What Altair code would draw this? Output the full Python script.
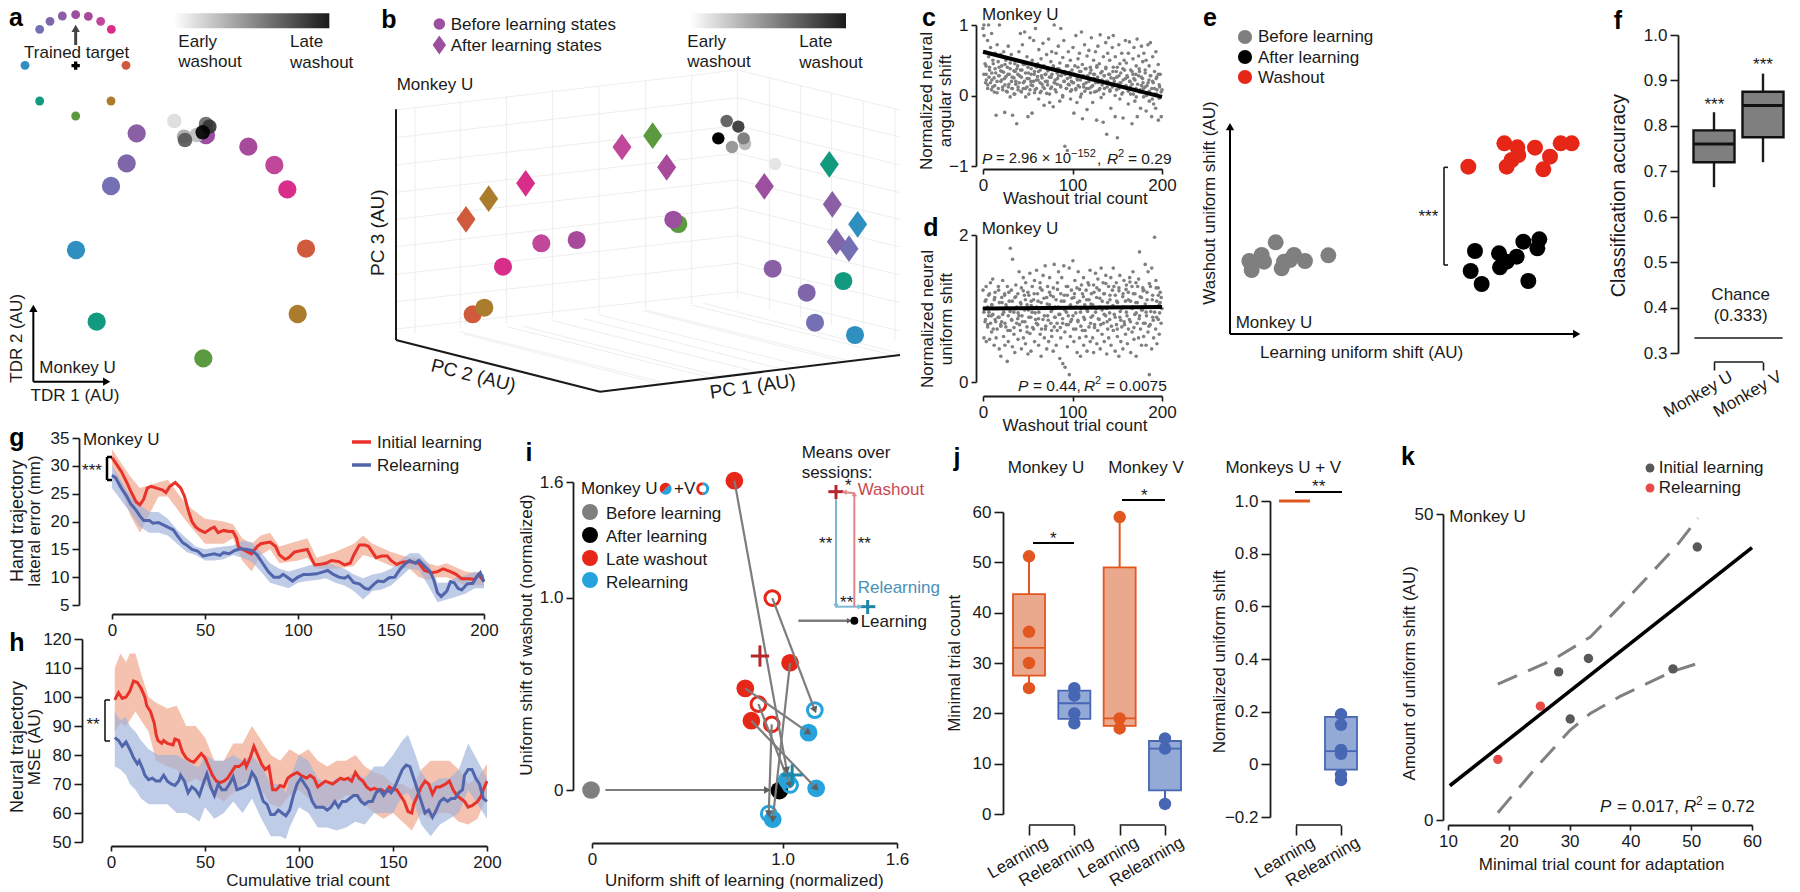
import math
import altair as alt
import pandas as pd

F = "Liberation Sans"
INK = "#1a1a1a"
W, H = 1784, 884

# ---------- colours ----------
C_VIOLET = ["#7570b3", "#7f66ab", "#8b5fa5", "#9b4f9e", "#a84a9a", "#c0479a", "#d92d8a"]
C_BLUE, C_GREEN, C_BROWN, C_ORANGE, C_TEAL = "#2e8fc0", "#5b9a3e", "#aa7c2c", "#cf5a3c", "#129a7f"

# ---------- panel a (values in arbitrary TDR units) ----------
a_small_x = [119, 150, 187, 227, 265, 302, 334, 75, 378, 119, 333, 227]
a_small_y = [88, 64, 48, 44, 49, 64, 88, 196, 196, 303, 303, 348]
a_small_c = C_VIOLET + [C_BLUE, C_ORANGE, C_TEAL, C_BROWN, C_GREEN]
a_big_x = [333, 380, 410, 618, 745, 823, 862, 228, 918, 290, 893, 610]
a_big_y = [558, 490, 400, 405, 440, 495, 568, 750, 746, 965, 942, 1075]
a_big_c = C_VIOLET + [C_BLUE, C_ORANGE, C_TEAL, C_BROWN, C_GREEN]
a_wash_x = [523, 552, 590, 555, 618, 628, 608]
a_wash_y = [363, 410, 405, 420, 372, 380, 397]
a_wash_c = ["#dcdcdc", "#a8a8a8", "#bdbdbd", "#555555", "#666666", "#333333", "#000000"]

# ---------- panel b ----------
b_circ_x = [1305, 1280, 1178, 880, 590, 484, 369, 1425, 278, 1390, 313, 895]
b_circ_y = [968, 878, 806, 659, 720, 730, 800, 1005, 943, 843, 923, 672]
b_circ_c = C_VIOLET + [C_BLUE, C_ORANGE, C_TEAL, C_BROWN, C_GREEN]
b_circ_order = [11, 3, 2, 1, 0, 4, 5, 6, 8, 10, 9, 7]
b_dia_x = [1407, 1369, 1357, 1153, 860, 726, 437, 1433, 258, 1348, 326, 818]
b_dia_y = [746, 725, 613, 559, 502, 441, 550, 673, 658, 493, 596, 407]
b_dia_c = C_VIOLET + [C_BLUE, C_ORANGE, C_TEAL, C_BROWN, C_GREEN]
b_wash_x = [1185, 1095, 1056, 1091, 1040, 1075, 1015]
b_wash_y = [492, 432, 441, 415, 363, 380, 415]
b_wash_c = ["#e5e5e5", "#bbbbbb", "#999999", "#808080", "#666666", "#444444", "#000000"]

# ---------- panels c and d ----------
c_values = [
 .95,1.0,.85,.62,.45,.3,.22,.78,.15,.55,1.0,.4,.18,.68,.32,.88,.12,.5,.25,.05,.6,.38,-.28,.2,.72,.1,.48,.28,1.0,.35,
 .58,.22,.42,.08,.33,.62,.15,-.24,.5,.27,.05,.4,.12,.7,.3,-.02,.46,.2,.58,.1,-.28,.35,.25,.02,.45,.16,-.4,.38,.08,.3,
 .62,.18,.88,.36,.05,.26,.72,.1,.44,.9,.2,.32,-.02,.55,.12,-.3,.4,.24,.82,.08,.3,.15,-.25,.5,.2,.78,.04,.34,.95,.22,
 .1,.45,.27,-.05,.65,.18,.36,.06,.52,.25,.74,.12,.4,-.14,.3,.2,.58,.03,.35,.15,.8,.26,-.1,.48,.1,.62,.3,-.16,.42,.18,
 1.0,.22,.6,.05,.38,.16,.7,.28,-.08,.46,.95,.12,.34,-.02,.54,.2,.78,-.72,.3,.1,.42,.24,-.78,.62,.15,.33,-.05,.5,.2,.08,
 .18,.68,.3,-.25,.42,.1,.85,.24,-.1,.52,.14,.6,.34,-.02,.22,.9,.44,-.33,.12,.28,.72,.06,.38,.18,.56,-.2,.26,.64,.1,.4,
 .32,.12,.82,.22,-.1,.5,.3,.05,.62,.18,.4,-.35,.26,.7,.08,.45,.2,.86,-.03,.34,.15,.55,-.38,.28,.1,.75,.4,-.55,.2,.6,
 .82,.3,.06,.5,-.18,.25,.68,.12,.4,.85,.2,-.3,.55,.08,.34,-.6,.16,.72,.28,-.05,.45,.18,.6,.02,-.32,.38,.12,.5,.78,.24,
 .1,.46,.26,-.12,.6,.2,.76,.02,.36,-.4,.16,.52,.3,.68,-.08,.22,.42,.1,.8,-.3,.28,.56,.05,.34,-.18,.7,.14,.48,.24,-.02,
 .6,.12,.36,-.22,.5,.04,.72,.18,-.08,.42,.28,.75,-.3,.1,.55,.2,-.12,.34,.02,.62,-.18,.26,.08,.44,-.35,.15,-.04,.3,.05,-.3]
c_extra = [
 .3,.18,.42,.1,.26,.36,.08,.22,.45,.14,.32,.04,.28,.4,.2,
 .34,.12,.24,.44,.06,.3,.16,.38,.1,.26,.02,.34,.2,.42,.12,
 .28,.06,.36,.18,.44,.1,.24,.32,.02,.2,.38,.14,.3,.08,.4,
 .22,.34,.04,.28,.16,.42,.1,.3,.2,.36,.02,.26,.12,.4,.18,
 .08,.32,.24,.38,.14,.28,.0,.2,.34,.1,.42,.16,.26,.06,.36,
 .18,.3,.08,.22,.4,.12,.34,.02,.26,.16,.38,.1,.28,.2,.04,
 .36,.14,.24,.3,.06,.42,.18,.1,.32,.22,.02,.28,.38,.12,.2,
 .3,.08,.16,.34,.24,.0,.26,.4,.1,.18,.32,.04,.22,.36,.14,
 .28,.06,.2,.12,.34,.02,.24,.3,-.02,.16,.38,.08,.26,.18,.1,
 .32,.0,.14,.22,.06,.28,-.05,.18,.1,.24,.02,.3,.12,-.02,.08]
d_values = [
 1.25,.95,.6,1.1,.82,1.3,.55,1.02,.75,1.18,.9,.58,1.35,.8,1.05,.68,1.4,.92,.5,1.12,.85,1.22,.6,1.0,.72,1.3,.88,.45,1.08,.78,
 .35,1.15,.82,1.38,.62,.95,.5,1.2,.75,1.05,.28,1.3,.9,.55,1.1,.7,1.82,.85,1.25,.48,1.67,.95,.65,1.15,.4,1.32,.8,1.02,.58,1.2,
 .9,1.5,.7,1.08,.45,1.28,.82,1.42,.6,.98,1.18,.52,1.35,.75,1.05,.38,1.22,.88,1.48,.66,1.1,.42,.95,1.3,.72,1.12,.55,1.38,.85,1.02,
 1.52,.78,1.2,.5,.95,1.35,.65,1.08,.35,1.25,.85,1.45,.6,1.0,1.58,.72,1.15,.45,.9,1.3,.55,1.05,1.42,.8,1.18,.62,.98,.42,1.28,.75,
 1.6,.88,1.12,.5,1.35,.7,1.02,1.5,.32,.92,1.2,.6,1.42,.8,.25,1.1,1.58,.68,.2,1.3,.95,.48,1.18,.78,1.55,.1,1.05,.62,1.25,.85,
 1.65,.9,1.15,.55,1.38,.72,1.02,.4,1.28,.82,1.5,.6,1.1,.35,.95,1.32,.7,1.2,.5,1.42,.85,1.05,.62,1.25,.42,.98,1.35,.75,1.12,.55,
 1.52,.88,1.2,.6,1.05,.4,1.32,.78,1.48,.95,.52,1.15,.7,1.4,.85,1.25,.45,1.02,1.55,.65,1.1,.8,1.35,.55,1.2,.9,1.45,.38,1.0,.72,
 1.3,.6,1.12,.85,1.42,.5,1.02,1.25,.7,1.55,.92,.42,1.18,.78,1.35,.62,1.08,.35,1.28,.88,1.45,.55,1.0,.75,1.2,.45,1.38,.82,1.1,.65,
 1.32,.95,.52,1.22,.72,1.42,.85,1.1,.4,1.3,.68,1.02,1.5,.58,.92,1.2,.35,1.35,.8,1.08,.6,1.4,.9,1.77,.72,1.15,.5,1.28,.98,.62,
 1.25,.8,1.6,.95,.5,1.12,.68,1.5,.1,1.02,.78,1.3,.45,1.55,.88,1.18,.6,1.97,.95,1.38,.72,1.1,.52,1.28,.85,1.05,.65,1.22,.8,1.15]
d_extra = [
 1.0,.85,1.12,.78,.95,1.2,.9,1.05,.72,1.15,.82,1.0,1.25,.88,.76,
 1.08,.92,1.18,.8,1.02,.7,1.22,.96,.84,1.1,.74,1.0,1.16,.86,.94,
 .78,1.06,.9,1.24,.82,1.12,.68,.98,1.18,.88,1.04,.74,1.2,.94,.8,
 1.1,.86,1.28,.72,1.0,1.14,.9,.76,1.06,.84,1.22,.96,.7,1.16,.88,
 1.02,.8,1.26,.92,.74,1.1,.86,1.18,.98,.78,1.3,.9,1.04,.82,1.14,
 .72,1.2,.94,1.08,.84,1.26,.76,1.0,1.16,.88,.7,1.12,.96,1.32,.8,
 1.06,.9,1.22,.74,1.0,1.28,.86,1.14,.78,.98,1.2,.92,1.34,.82,1.08,
 .94,1.18,.76,1.04,1.3,.88,1.1,.72,1.24,.96,.84,1.16,1.02,.78,1.26,
 .9,1.12,1.36,.82,1.0,1.2,.74,1.08,.94,1.3,.86,1.16,.98,1.24,.8,
 1.06,.9,1.22,.76,1.34,.96,1.12,.84,1.02,1.28,.88,1.18,.94,1.08,1.0]
x_nudge = [0, .35, -.2, .5, -.4, .15, -.3, .45, -.1, .25, -.45]
trial_index = [max(0, min(200, i * 2 / 3 + x_nudge[i % 11])) for i in range(300)]
extra_index = [max(0, min(200, 1 + i * 4 / 3 + x_nudge[(i * 3) % 11])) for i in range(150)]

# ---------- panel e ----------
e_gray_x = [118, 155, 162, 125, 197, 215, 222, 240, 252, 285, 355]
e_gray_y = [603, 585, 605, 630, 547, 625, 605, 600, 585, 603, 586]
e_black_x = [795, 867, 782, 815, 870, 890, 920, 940, 988, 982, 955]
e_black_y = [573, 580, 633, 672, 622, 605, 590, 545, 538, 565, 663]
e_red_x = [883, 922, 925, 890, 905, 975, 1020, 1000, 1052, 1085, 775]
e_red_y = [250, 262, 285, 320, 300, 263, 290, 328, 250, 250, 320]

# ---------- panel f ----------
f_q1, f_med, f_q3 = [.72, .775], [.76, .845], [.79, .875]
f_lo, f_hi = [.665, .72], [.83, .915]

# ---------- panel g ----------
g_red_x = [0,3,5,8,10,13,15,17,19,21,24,27,29,31,34,37,39,41,43,45,47,50,53,55,57,60,63,65,67,68,70,75,78,80,85,88,90,93,95,98,102,105,107,109,112,115,118,122,125,128,130,133,136,138,140,142,145,148,150,153,156,160,165,168,172,175,178,182,185,188,192,195,197,200]
g_red_y = [31.5,30,29,27,25.5,23.5,23,24,26,26.3,26,25.7,25.2,26.3,27,26,24.5,22,20,19,18.5,18,18.7,19,18,18.4,18.2,18.2,17,15.5,15,14.2,15.5,16,16.3,15.5,14,13.2,13.5,14.5,14.8,15,13.5,12.2,12.3,12.5,13,12.8,12.2,12.5,14,15.8,15.8,15.5,14.5,13.5,13.8,13.8,13,12.3,12.7,12.8,12.5,11.2,10.8,11,11.5,11,10.5,9.7,9.7,9.6,10.5,9.2]
g_blue_x = [0,2,5,8,10,13,15,17,20,22,25,27,30,33,35,38,40,43,46,49,52,55,58,60,63,66,69,72,75,78,81,84,87,90,92,95,97,100,103,106,110,114,116,119,122,125,127,130,133,136,138,141,143,146,149,152,155,158,160,163,165,168,171,173,175,177,180,182,184,186,188,191,194,196,198,200]
g_blue_y = [28.3,27.8,26,24.5,23.2,22,21,20.2,20.2,19.7,19.8,19.5,19,18.5,17.5,16.2,15.8,15,14.7,13.8,14,14.2,13.9,14.4,14.2,14.8,15.1,15,14.8,14,12.5,11,10,10,10.5,9.8,9.3,10,10.5,10.5,10.6,11,11.2,10.5,10,9.8,10.2,9,8.8,8,7.8,8.8,9.3,9.2,9.9,10,11.5,12.5,13,12.5,13,12,11,9.5,7.2,6.5,7.5,9.2,9,8,7.7,8.8,8.9,10,10.8,9.2]
g_rband_x = [0,10,15,25,30,40,50,60,65,70,75,80,85,90,100,105,110,120,130,135,140,150,160,165,170,175,180,190,200]
g_rband_hi = [33,28,26,27,27.5,23,20.5,20,19.5,17,16,17.5,18,15.5,16.5,17,13.5,14.5,16,17.5,16,14.5,13.5,13.5,12.5,12,12.5,11,10.5]
g_rband_lo = [30,21,18,24.5,24.5,20,16,16,17,13,11,14,15,12.5,13,13.5,11.5,11.5,12,14,13.5,12,11.5,10,9.5,10,10,8.5,8.5]
g_bband_x = [0,10,15,20,25,30,35,40,45,50,55,60,65,70,75,80,85,90,95,100,105,110,115,120,125,130,135,140,145,150,155,160,165,170,175,180,185,190,195,200]
g_bband_hi = [30,24.5,23,21.7,21.7,20.5,18.5,17,15.5,15,15.3,15.5,15.7,16.5,16.3,14.5,12.5,11.5,11,11.5,12,12.5,12.8,12,11.5,10.5,9.8,10.5,10.8,11.5,13,14.3,14.3,12.5,9,9,10,10.3,11,10.5]
g_bband_lo = [26,21.5,19,18,18,17.5,16,14.5,14,13,13,13.2,14,13.5,12.8,11,9,8.5,8,9,9.3,9.5,9.8,9,8.5,7.5,6,7.5,7.8,8.5,10,11.5,11.3,8.5,5.5,6,6.5,7,8,8]

# ---------- panel h ----------
h_red_x = [2,4,6,8,10,12,14,16,18,19,21,23,24,25,27,28,30,33,34,36,38,40,42,44,46,48,50,52,54,56,58,60,62,64,66,68,70,71,72,74,76,78,80,82,84,85,86,88,90,92,94,96,99,101,104,106,108,110,112,114,116,118,120,122,124,126,128,130,132,134,136,138,140,142,144,146,148,150,152,154,156,158,160,161,163,165,167,169,171,173,175,178,180,182,184,186,188,190,192,195,197,198,200]
h_red_y = [99,101.5,99.5,100,102,105.5,105,103,100,97,95,91,87,85,84,85,84,83.5,85.5,85,81,79,78,77.5,79,80.5,79,76,73,71,70.5,71,72,74,76,76,77,78,76,79,83,80,77,75,76,72,68,68,69.5,69,72,73,74,73,72,73,72,69,70,71,70.5,70,71,72,71.5,72,71,74,72,71,69,68,68.5,68,68,67,69,68,68,66,64,60.5,60,63,66,69,71,70,66.5,69,69,70,71,68,66,65,64,62,62.5,64,66,68,71]
h_blue_x = [2,4,6,8,10,12,14,15,17,18,20,22,24,26,28,30,32,34,36,37,39,41,43,45,47,49,51,53,55,57,59,61,63,65,67,69,71,73,75,77,79,81,83,85,87,89,91,93,95,97,99,101,103,105,107,109,111,113,115,117,119,121,123,125,127,129,131,133,135,137,139,141,143,145,147,149,151,153,155,157,159,161,163,165,167,169,171,173,175,177,179,181,183,185,187,188,190,192,194,196,198,200]
h_blue_y = [86,85,83,84.5,82,79,77,78,75,73,71.5,72,71,71,73,71,70,69.5,71,73,71,67,69,68,66,70,73.5,69,66,70,68,68,70,72.5,68,68.5,69,70,74,72,68,64,63,59.5,59.5,61,60,59,61,66,70,72,70,68,64,62,62,62,61,62,64,62,64,64,65,66,66,64,63,64,64,67,68,66,68,67,69,72,75,76.5,76,72,68,64,60,61,58.5,61,64,65,64,65,65,67,68,73,75,75,72,70,65,64]
h_rband_x = [2,5,8,10,13,16,20,24,30,35,40,45,50,55,60,65,70,75,80,85,90,95,100,105,110,115,120,125,130,135,140,145,150,155,160,165,170,175,180,185,190,195,200]
h_rband_hi = [110,115,112,115,115,108,100,98,96,97,90,90,86,78,78,84,84,90,85,80,78,82,80,82,78,76,78,78,80,76,74,73,70,70,68,75,78,78,78,75,70,72,77]
h_rband_lo = [88,91,90,92,95,92,88,78,76,75,70,72,70,66,64,67,70,72,68,63,62,66,68,65,62,62,64,66,66,63,60,58,60,57,54,60,58,60,60,57,56,58,66]
h_bband_x = [2,5,8,10,13,16,20,25,30,35,40,45,47,50,55,60,65,70,75,80,85,90,93,95,100,105,110,115,120,125,130,135,140,145,150,155,158,162,165,170,175,180,185,190,195,200]
h_bband_hi = [95,92,93,90,88,85,82,80,80,80,78,76,76,80,78,78,80,78,80,76,70,70,67,72,80,78,72,70,72,72,74,72,76,76,80,85,87,80,74,70,72,72,75,84,78,72]
h_bband_lo = [76,75,73,70,68,65,63,63,63,60,60,58,57,62,58,60,64,60,65,58,52,52,51,55,62,60,55,55,54,55,57,56,60,60,60,66,67,62,56,52,56,58,60,68,63,58]

# ---------- panel i ----------
i_red_x, i_red_y = [.747, 1.039, .804, .836], [1.607, .661, .528, .360]
i_hred_x, i_hred_y = [.946, .873, .943], [.997, .446, .341]
i_cy_x, i_cy_y = [1.022, .948, 1.136, 1.176], [.052, -.152, .298, .009]
i_hcy_x, i_hcy_y = [1.169, 1.039, .927], [.415, .026, -.123]
i_before, i_after = (-.005, 0.0), (.983, -.003)
i_cross_red, i_cross_cy = (.881, .696), (1.050, .078)

# ---------- panel j ----------
j_u_l_dots, j_u_r_dots = [51.2, 36.2, 30, 25], [25, 23.5, 20, 18]
j_v_l_dots, j_v_r_dots = [59, 19, 17], [15, 13, 2]
j_q1, j_med, j_q3 = [27.5, 18.9, 17.5, 4.7], [33, 22, 19, 13], [43.7, 24.5, 49, 14.5]
j_lo, j_hi = [25, 18.9, 17.5, 2], [51.2, 24.5, 59, 14.5]
j2_dots = [.19, .15, .055, .04, -.04, -.06]
j2_q1, j2_med, j2_q3 = -.02, .05, .18

# ---------- panel k ----------
k_black_x, k_black_y = [51, 33.1, 28.2, 30.1, 47], [44.6, 26.4, 24.2, 16.5, 24.7]
k_red_x, k_red_y = [25.2, 18.2], [18.6, 9.9]
k_fit_x, k_fit_y = [10.3, 60], [5.6, 44.5]
k_up_x, k_up_y = [18.2, 27.3, 33.4, 38.3, 47.6, 51.1], [22.2, 26.2, 29.9, 34.9, 44.8, 49.3]
k_lo_x, k_lo_y = [18.2, 24.6, 30.1, 33.4, 38.3, 47, 51.1], [1.2, 8.7, 14.7, 17.4, 20.2, 24.3, 25.6]

# ---------- layout helpers ----------
def zoom_panel(x0, y0):
    return ([0, 3000], [x0 - 8, x0 - 8 + 1000], [0, 3000], [y0 - 8, y0 - 8 + 1000])

def real_panel(xd, xr, yd, yr):
    return (xd, [xr[0] - 8, xr[1] - 8], yd, [yr[0] - 8, yr[1] - 8])

PANELS = {
    "page": ([0, 1800], [-8, 1792], [0, 892], [-8, 884]),
    "a": zoom_panel(0, 0), "b": zoom_panel(380, 0), "e": zoom_panel(1210, 60),
    "c": real_panel([0, 200], [983, 1162], [-1, 1], [166, 25]),
    "d": real_panel([0, 200], [983, 1162], [0, 2], [382, 235]),
    "f": real_panel([1, 2], [1714, 1763], [.3, 1], [353, 35]),
    "g": real_panel([0, 200], [112, 484], [5, 35], [605, 438]),
    "h": real_panel([0, 200], [111, 487], [50, 120], [842, 639]),
    "i": real_panel([0, 1.6], [592, 897], [0, 1.6], [790, 482]),
    "j1": real_panel([1, 4], [1029, 1165], [0, 60], [814, 512]),
    "j2": real_panel([1, 2], [1296, 1341], [-.2, 1], [817, 501]),
    "k": real_panel([10, 60], [1448, 1752], [0, 50], [820, 514]),
}

def sx(p, field="x", axis=None):
    d = PANELS[p]
    return alt.X(f"{field}:Q", scale=alt.Scale(domain=d[0], range=d[1], nice=False, zero=False), axis=axis, title=None)

def sy(p, field="y", axis=None):
    d = PANELS[p]
    return alt.Y(f"{field}:Q", scale=alt.Scale(domain=d[2], range=d[3], nice=False, zero=False), axis=axis, title=None)

COMMON = dict(title=None, grid=False, labelFont=F, labelFontSize=17, labelColor=INK, tickColor=INK, domainColor=INK,
              tickWidth=1.6, domainWidth=1.8, labelFlush=False, labelOverlap=False, labelBound=False)

def xaxis(yline, vals, tick=5, pad=3, **kw):
    opts = dict(COMMON); opts.update(tickSize=tick, labelPadding=pad); opts.update(kw)
    return alt.Axis(orient="bottom", offset=yline - 8 - H, values=vals, **opts)

def yaxis(xline, vals, tick=5, pad=3, **kw):
    opts = dict(COMMON); opts.update(tickSize=tick, labelPadding=pad); opts.update(kw)
    return alt.Axis(orient="left", offset=-(xline - 8), values=vals, **opts)

layers = []

def add(mark, p, rows, xa=None, ya=None, **enc):
    df = pd.DataFrame(rows)
    e = dict(x=sx(p, "x", xa), y=sy(p, "y", ya))
    if "x2" in df: e["x2"] = alt.X2("x2:Q")
    if "y2" in df: e["y2"] = alt.Y2("y2:Q")
    if "c" in df: e["color"] = alt.Color("c:N", scale=None)
    if "w" in df: e["strokeWidth"] = alt.StrokeWidth("w:Q", scale=None)
    if "ang" in df: e["angle"] = alt.Angle("ang:Q", scale=None)
    if "o" in df: e["order"] = alt.Order("o:Q")
    e.update(enc)
    ch = mark.encode(**e)
    ch.data = df
    layers.append(ch)

def circles(p, xs, ys, cs, r, opacity=1, **kw):
    cs = cs if isinstance(cs, list) else [cs] * len(xs)
    add(alt.Chart().mark_circle(size=math.pi * r * r, opacity=opacity), p,
        {"x": xs, "y": ys, "c": cs}, **kw)

def rings(p, xs, ys, color, r, sw):
    add(alt.Chart().mark_point(size=math.pi * r * r, filled=False, strokeWidth=sw, color=color, opacity=1), p, {"x": xs, "y": ys})

def segs(p, items):
    # items: (x1, y1, x2, y2, colour, width)
    add(alt.Chart().mark_rule(), p, {
        "x": [i[0] for i in items], "y": [i[1] for i in items],
        "x2": [i[2] for i in items], "y2": [i[3] for i in items],
        "c": [i[4] for i in items], "w": [i[5] for i in items]})

def polyline(p, xs, ys, color, width, dash=None):
    kw = dict(color=color, strokeWidth=width, interpolate="linear")
    if dash: kw["strokeDash"] = dash
    add(alt.Chart().mark_line(**kw), p, {"x": xs, "y": ys, "o": list(range(len(xs)))})

def band(p, xs, lo, hi, color, opacity):
    add(alt.Chart().mark_area(color=color, opacity=opacity), p, {"x": xs, "y": lo, "y2": hi})

def heads(p, items, size=70):
    # items: (x, y, angle, colour)
    add(alt.Chart().mark_point(shape="triangle-up", filled=True, size=size, opacity=1), p, {
        "x": [i[0] for i in items], "y": [i[1] for i in items],
        "ang": [i[2] for i in items], "c": [i[3] for i in items]})

def gradient_bar(p, x1, x2, y1, y2):
    grad = alt.LinearGradient(gradient="linear", x1=0, x2=1, y1=0, y2=0,
                        stops=[alt.GradientStop(color="#ffffff", offset=0), alt.GradientStop(color="#1a1a1a", offset=1)])
    add(alt.Chart().mark_rect(color=grad), p, {"x": [x1], "x2": [x2], "y": [y1], "y2": [y2]})

DIAMOND = "M0,-1.4L1,0L0,1.4L-1,0Z"

# ---------- text ----------
texts = []
def T(x, y, s, size=17, align="left", italic=False, bold=False, angle=0, color=INK):
    texts.append(dict(x=x, y=y, s=s, size=size, align=align, italic=italic, bold=bold, ang=angle, c=color))
def Z(ox, oy, px, py, s, **kw):
    T(ox + px / 3, oy + py / 3, s, **kw)

# ================= a =================
gradient_bar("a", 520, 988, 40, 85)
circles("a", a_small_x, a_small_y, a_small_c, 5)
circles("a", a_big_x, a_big_y, a_big_c, 10.3)
circles("a", a_wash_x, a_wash_y, a_wash_c, 8.2, opacity=.9)
segs("a", [(227, 135, 227, 85, "#444444", 3), (100, 1145, 100, 925, "#000000", 2), (100, 1145, 320, 1145, "#000000", 2)])
heads("a", [(227, 85, 0, "#444444"), (100, 925, 0, "#000000"), (320, 1145, 90, "#000000")], size=70)
add(alt.Chart().mark_point(shape="cross", filled=True, size=70, color="#000000", opacity=1), "a", {"x": [227], "y": [197]})
for s, px, py in [("Early", 535, 125), ("washout", 535, 187), ("Late", 870, 127), ("washout", 870, 188)]:
    Z(0, 0, px, py, s)
Z(0, 0, 230, 160, "Trained target", align="center")
Z(0, 0, 118, 1103, "Monkey U")
Z(0, 0, 225, 1187, "TDR 1 (AU)", align="center")
Z(0, 0, 51, 1015, "TDR 2 (AU)", align="center", angle=270)

# ================= b =================
grid = []
left_v = [(105, 318, 1000), (241, 303, 985), (380, 287, 970), (518, 270, 955), (657, 258, 940), (797, 243, 925), (935, 226, 912), (1072, 210, 895)]
for x, t, b in left_v:
    grid.append((x, t, x, b))
for yl, yr in [(413, 293), (495, 377), (577, 460), (658, 540), (740, 623), (823, 707), (905, 790), (987, 875)]:
    grid.append((48, yl, 1072, yr))
    grid.append((1072, yr, 1560, yr + 118))
grid.append((48, 330, 1072, 210)); grid.append((1072, 210, 1560, 330))
for x, t in [(1168, 235), (1262, 258), (1355, 280), (1450, 305), (1545, 328)]:
    grid.append((x, t, x, t + 695))
for x, y in [(241, 995), (380, 980), (518, 962), (657, 945), (797, 930), (935, 915)]:
    grid.append((x, y, x + 600, y + 150))
for k in range(1, 6):
    fx, fy = 660 + k * 180, 1175 - k * 23
    grid.append((fx, fy, fx - 590, fy - 150))
segs("b", [g + ("#eeeeee", 1) for g in grid])
segs("b", [(48, 328, 48, 1020, INK, 2), (48, 1020, 660, 1175, INK, 2), (660, 1175, 1560, 1065, INK, 2)])
gradient_bar("b", 930, 1398, 40, 85)
order = b_circ_order
circles("b", [b_circ_x[i] for i in order], [b_circ_y[i] for i in order], [b_circ_c[i] for i in order], 10.2)
add(alt.Chart().mark_point(shape=DIAMOND, filled=True, size=361, opacity=1, strokeWidth=0), "b", {"x": b_dia_x, "y": b_dia_y, "c": b_dia_c})
add(alt.Chart().mark_point(shape=DIAMOND, filled=True, size=180, opacity=1, strokeWidth=0), "b", {"x": [178], "y": [135], "c": ["#9b4f9e"]})
circles("b", [178], [72], ["#9b4f9e"], 6.5)
circles("b", b_wash_x, b_wash_y, b_wash_c, 7)
for s, px, py in [("Before learning states", 212, 75), ("After learning states", 212, 137), ("Monkey U", 50, 255),
                  ("Early", 922, 125), ("washout", 922, 187), ("Late", 1258, 127), ("washout", 1258, 188)]:
    Z(380, 0, px, py, s)
Z(380, 0, -5, 698, "PC 3 (AU)", align="center", angle=270, size=19)
Z(380, 0, 280, 1127, "PC 2 (AU)", align="center", angle=14, size=19)
Z(380, 0, 1118, 1160, "PC 1 (AU)", align="center", angle=352, size=19)

# ================= c, d =================
add(alt.Chart().mark_circle(size=13, color="#7f7f7f", opacity=1), "c", {"x": trial_index, "y": c_values},
    xa=xaxis(169, [0, 100, 200]), ya=yaxis(976, [-1, 0, 1], labelExpr="datum.value == 0 ? '0' : datum.value == 1 ? '1' : '\u22121'"))
add(alt.Chart().mark_circle(size=13, color="#7f7f7f", opacity=1), "c", {"x": extra_index, "y": c_extra})
polyline("c", [0, 200], [.62, -.02], "#000000", 4)
add(alt.Chart().mark_circle(size=13, color="#7f7f7f", opacity=1), "d", {"x": trial_index, "y": d_values},
    xa=xaxis(396, [0, 100, 200]), ya=yaxis(976, [0, 1, 2], format="d"))
add(alt.Chart().mark_circle(size=13, color="#7f7f7f", opacity=1), "d", {"x": extra_index, "y": d_extra})
polyline("d", [0, 200], [1.0, 1.02], "#000000", 4)
T(982, 15, "Monkey U"); Z(880, 0, 305, 687, "Monkey U")
Z(880, 0, 142, 303, "Normalized neural", align="center", angle=270)
Z(880, 0, 197, 303, "angular shift", align="center", angle=270)
Z(880, 0, 145, 957, "Normalized neural", align="center", angle=270)
Z(880, 0, 200, 957, "uniform shift", align="center", angle=270)
Z(880, 0, 586, 597, "Washout trial count", align="center")
T(1075, 426, "Washout trial count", align="center")
PS, SS = 15.5, 11
T(982, 159, "P", italic=True, size=PS); T(996, 159, "= 2.96 \u00d7 10", size=14.8); T(1071, 154, "\u2212152", size=SS); T(1097, 159, ",", size=PS)
T(1107, 159, "R", italic=True, size=PS); T(1118, 154, "2", size=SS); T(1128, 159, "= 0.29", size=PS)
T(1018, 386, "P", italic=True, size=PS); T(1033, 386, "= 0.44,", size=PS); T(1084, 386, "R", italic=True, size=PS); T(1095, 381, "2", size=SS); T(1106, 386, "= 0.0075", size=PS)

# ================= e =================
RED = "#e62718"
circles("e", e_gray_x, e_gray_y, "#7f7f7f", 9)
circles("e", e_black_x, e_black_y, "#000000", 9)
circles("e", e_red_x, e_red_y, RED, 9)
segs("e", [(60, 822, 60, 200, "#000000", 2), (60, 822, 1100, 822, "#000000", 2),
           (702, 322, 702, 615, INK, 1.6), (702, 322, 714, 322, INK, 1.6), (702, 615, 714, 615, INK, 1.6)])
heads("e", [(60, 200, 0, "#000000"), (1100, 822, 90, "#000000")])
Z(1210, 60, 655, 472, "***", align="center")
Z(1210, 60, 77, 788, "Monkey U")
Z(1210, 60, 455, 880, "Learning uniform shift (AU)", align="center")
T(1210, 203, "Washout uniform shift (AU)", align="center", angle=270)
add(alt.Chart().mark_circle(size=math.pi * 64, opacity=1), "page", {"x": [1245, 1245, 1245], "y": [37, 57, 77], "c": ["#7f7f7f", "#000000", RED]})
for s, y in [("Before learning", 37), ("After learning", 58), ("Washout", 78)]:
    T(1258, y, s)

# ================= f =================
add(alt.Chart().mark_rule(color=INK, strokeWidth=2.4), "f", {"x": [1, 2], "y": f_lo, "y2": f_hi},
    xa=xaxis(362, [1, 2], tick=8, pad=5, domain=False, labelAngle=-30, labelAlign="right", labelBaseline="middle", labelOffset=17,
             labelExpr="datum.value == 1 ? 'Monkey U' : 'Monkey V'"),
    ya=yaxis(1678, [.3, .4, .5, .6, .7, .8, .9, 1.0], format=".1f", tick=8))
half = 20.5 / 49
add(alt.Chart().mark_rect(color="#7f7f7f", stroke="#111111", strokeWidth=2.4), "f",
    {"x": [1 - half, 2 - half], "x2": [1 + half, 2 + half], "y": f_q1, "y2": f_q3})
segs("f", [(1 - half, f_med[0], 1 + half, f_med[0], "#111111", 3), (2 - half, f_med[1], 2 + half, f_med[1], "#111111", 3),
           (1, 0.3 - 9 * .7 / 318, 2, 0.3 - 9 * .7 / 318, INK, 1.6),
           (.6, .333, 2.4, .333, INK, 1.6)])
Z(1560, 0, 463, 314, "***", align="center"); Z(1560, 0, 609, 196, "***", align="center")
Z(1560, 0, 542, 885, "Chance", align="center"); Z(1560, 0, 542, 947, "(0.333)", align="center")
Z(1560, 0, 178, 587, "Classification accuracy", align="center", angle=270, size=20)

# ================= g =================
RL, BL = "#e8322a", "#5065ac"
band("g", g_rband_x, g_rband_lo, g_rband_hi, "#ef9a7c", .6)
band("g", g_bband_x, g_bband_lo, g_bband_hi, "#9db0da", .65)
add(alt.Chart().mark_line(color=RL, strokeWidth=3), "g", {"x": g_red_x, "y": g_red_y, "o": list(range(len(g_red_x)))},
    xa=xaxis(614, [0, 50, 100, 150, 200]), ya=yaxis(79, [5, 10, 15, 20, 25, 30, 35], tick=7))
polyline("g", g_blue_x, g_blue_y, BL, 3)
segs("page", [(107, 457, 107, 480, "#000000", 2.5), (107, 457, 112, 457, "#000000", 2.5), (107, 480, 112, 480, "#000000", 2.5),
              (352, 442, 371, 442, RL, 3.5), (352, 465, 371, 465, BL, 3.5)])
T(92, 471, "***", align="center")
T(83, 440, "Monkey U"); T(377, 443, "Initial learning"); T(377, 466, "Relearning")
T(18, 521, "Hand trajectory", align="center", angle=270, size=18)
T(35, 521, "lateral error (mm)", align="center", angle=270)

# ================= h =================
band("h", h_rband_x, h_rband_lo, h_rband_hi, "#ef9a7c", .6)
band("h", h_bband_x, h_bband_lo, h_bband_hi, "#9db0da", .65)
add(alt.Chart().mark_line(color=RL, strokeWidth=3), "h", {"x": h_red_x, "y": h_red_y, "o": list(range(len(h_red_x)))},
    xa=xaxis(846, [0, 50, 100, 150, 200]), ya=yaxis(82, [50, 60, 70, 80, 90, 100, 110, 120], tick=8))
polyline("h", h_blue_x, h_blue_y, BL, 3)
segs("page", [(105, 700, 105, 741, INK, 1.6), (105, 700, 110, 700, INK, 1.6), (105, 741, 110, 741, INK, 1.6)])
T(93, 725, "**", align="center")
T(18, 747, "Neural trajectory", align="center", angle=270, size=18)
T(35, 747, "MSE (AU)", align="center", angle=270)
T(308, 881, "Cumulative trial count", align="center")

# ================= i =================
CY = "#26a3dc"
DR = "#e62718"
circles("i", [i_before[0]], [i_before[1]], "#7f7f7f", 10,
        xa=xaxis(843, [0, 1.0, 1.6], labelExpr="datum.value == 0 ? '0' : format(datum.value, '.1f')"),
        ya=yaxis(573, [0, 1.0, 1.6], tick=7, labelExpr="datum.value == 0 ? '0' : format(datum.value, '.1f')"))
circles("i", [i_after[0]], [i_after[1]], "#000000", 10)
circles("i", i_red_x, i_red_y, DR, 10)
circles("i", i_cy_x, i_cy_y, CY, 10)
rings("i", i_hred_x, i_hred_y, DR, 8.3, 3)
rings("i", i_hcy_x, i_hcy_y, CY, 8.3, 3)
GA = "#7d7d7d"
pairs = [(i_red_x[0], i_red_y[0], i_cy_x[0], i_cy_y[0] + .05), (i_red_x[1], i_red_y[1], i_cy_x[1], i_cy_y[1]),
         (i_red_x[2], i_red_y[2], i_cy_x[2], i_cy_y[2]), (i_red_x[3], i_red_y[3], i_cy_x[3], i_cy_y[3]),
         (i_hred_x[0], i_hred_y[0], i_hcy_x[0], i_hcy_y[0]), (i_hred_x[1], i_hred_y[1], i_hcy_x[1], i_hcy_y[1]),
         (i_hred_x[2], i_hred_y[2], i_hcy_x[2], i_hcy_y[2]), (.07, 0, .92, 0)]
segs("i", [p + (GA, 2.2) for p in pairs])
def heading(p):
    return math.degrees(math.atan2(p[2] - p[0], p[3] - p[1])) % 360
heads("i", [(p[2], p[3], heading(p), "#5f5f5f") for p in pairs], size=60)
segs("i", [(i_cross_red[0] - .048, i_cross_red[1], i_cross_red[0] + .048, i_cross_red[1], "#b5272c", 3),
           (i_cross_red[0], i_cross_red[1] - .055, i_cross_red[0], i_cross_red[1] + .055, "#b5272c", 3),
           (i_cross_cy[0] - .055, i_cross_cy[1], i_cross_cy[0] + .055, i_cross_cy[1], "#1f86a8", 3),
           (i_cross_cy[0], i_cross_cy[1] - .055, i_cross_cy[0], i_cross_cy[1] + .055, "#1f86a8", 3)])
LB, LR = "#7db7d3", "#e0868c"
def zi(px, py):
    return (500 + px / 3, 400 + py / 3)
def s2(a, b, c, w):
    return (*zi(*a), *zi(*b), c, w)
segs("page", [s2((1008, 280), (1008, 615), LB, 2), s2((1008, 620), (1078, 620), LB, 2),
              s2((1063, 620), (1063, 282), LR, 2), s2((1063, 280), (1035, 277), LR, 2),
              s2((895, 662), (1045, 662), GA, 2.5),
              s2((985, 275), (1030, 275), "#b5272c", 3), s2((1008, 255), (1008, 297), "#b5272c", 3),
              s2((1082, 620), (1126, 620), "#1f86a8", 3), s2((1103, 600), (1103, 642), "#1f86a8", 3)])
heads("page", [(*zi(1008, 618), 180, LB), (*zi(1080, 620), 90, LB), (*zi(1063, 282), 0, LR), (*zi(1033, 277), 270, LR), (*zi(1048, 662), 90, "#5f5f5f")], size=30)
add(alt.Chart().mark_circle(size=math.pi * 20, opacity=1, color="#000000"), "page", {"x": [zi(1063, 662)[0]], "y": [zi(1063, 662)[1]]})
for s, px, py in [("Monkey U", 243, 266), ("+V", 522, 266), ("Before learning", 318, 341), ("After learning", 318, 410),
                  ("Late washout", 318, 479), ("Relearning", 318, 548), ("Means over", 905, 158), ("sessions:", 905, 220),
                  ("Learning", 1082, 665)]:
    Z(500, 400, px, py, s)
Z(500, 400, 1073, 270, "Washout", color="#c9494f")
Z(500, 400, 1073, 565, "Relearning", color="#4a90b8")
for s, px, py in [("*", 1045, 258), ("**", 977, 431), ("**", 1093, 431), ("**", 1040, 608)]:
    Z(500, 400, px, py, s, align="center")
Z(500, 400, 82, 705, "Uniform shift of washout (normalized)", align="center", angle=270)
Z(500, 400, 733, 1443, "Uniform shift of learning (normalized)", align="center")
add(alt.Chart().mark_circle(size=math.pi * 81, opacity=1), "page",
    {"x": [590, 590, 590, 590], "y": [512, 535, 558, 580], "c": ["#7f7f7f", "#000000", DR, CY]})
def half_disc(x, y, t1, t2, color, inner=0, r=6.5):
    add(alt.Chart().mark_arc(radius=r, radius2=inner, theta=t1, theta2=t2, color=color), "page", {"x": [x], "y": [y]})
half_disc(*zi(497, 266), .785, 3.927, CY, 0, 6)
half_disc(*zi(497, 266), 3.927, 7.069, DR, 0, 6)
half_disc(*zi(608, 266), 0, 3.1416, CY, 3.5, 6.5)
half_disc(*zi(608, 266), 3.1416, 6.2832, DR, 3.5, 6.5)

# ================= j =================
ORF, ORS, BUF, BUS = "#eaa98c", "#e2561f", "#93a9d6", "#4766b3"
jx = [1, 2, 3, 4]
hw = 16 / 45.3
segs("j1", [(x, lo, x, hi, ORS if x % 2 else BUS, 2) for x, lo, hi in zip(jx, j_lo, j_hi)])
for i, x in enumerate(jx):
    f, s = (ORF, ORS) if x % 2 else (BUF, BUS)
    add(alt.Chart().mark_rect(color=f, stroke=s, strokeWidth=1.8), "j1",
        {"x": [x - hw], "x2": [x + hw], "y": [j_q1[i]], "y2": [j_q3[i]]})
    segs("j1", [(x - hw, j_med[i], x + hw, j_med[i], s, 1.8)])
for x, dots, c in [(1, j_u_l_dots, ORS), (2, j_u_r_dots, BUS), (3, j_v_l_dots, ORS), (4, j_v_r_dots, BUS)]:
    circles("j1", [x] * len(dots), dots, c, 7)
add(alt.Chart().mark_rule(color=INK, strokeWidth=1.6), "j1", {"x": [1, 3], "x2": [2, 4], "y": [-2.2, -2.2]},
    xa=xaxis(825, jx, tick=10, pad=6, domain=False, labelAngle=-30, labelAlign="right", labelBaseline="middle", labelOffset=17,
             labelExpr="datum.value % 2 == 1 ? 'Learning' : 'Relearning'"),
    ya=yaxis(1003, [0, 10, 20, 30, 40, 50, 60], tick=9))
Z(960, 420, 258, 143, "Monkey U", align="center"); Z(960, 420, 558, 143, "Monkey V", align="center")
Z(960, 420, 970, 143, "Monkeys U + V", align="center")
segs("page", [(1033, 543, 1074, 543, "#000000", 1.8), (1122, 500, 1165, 500, "#000000", 1.8), (1295, 492, 1342, 492, "#000000", 1.8),
              (1279, 501, 1310, 501, ORS, 3)])
Z(960, 420, 280, 358, "*", align="center"); Z(960, 420, 553, 228, "*", align="center"); Z(960, 420, 1076, 202, "**", align="center")
Z(500, 400, 1365, 790, "Minimal trial count", align="center", angle=270)
Z(960, 420, 780, 725, "Normalized uniform shift", align="center", angle=270)
hw2 = 16 / 45
add(alt.Chart().mark_rule(color=INK, strokeWidth=1.6), "j2", {"x": [1], "x2": [2], "y": [-.2 - 8 * 1.2 / 316]},
    xa=xaxis(825, [1, 2], tick=10, pad=6, domain=False, labelAngle=-30, labelAlign="right", labelBaseline="middle", labelOffset=17,
             labelExpr="datum.value == 1 ? 'Learning' : 'Relearning'"),
    ya=yaxis(1270, [-.2, 0, .2, .4, .6, .8, 1.0], tick=9,
             labelExpr="datum.value == 0 ? '0' : replace(format(datum.value, '.1f'), '-', '\u2212')"))
add(alt.Chart().mark_rect(color=BUF, stroke=BUS, strokeWidth=1.8), "j2", {"x": [2 - hw2], "x2": [2 + hw2], "y": [j2_q1], "y2": [j2_q3]})
segs("j2", [(2 - hw2, j2_med, 2 + hw2, j2_med, BUS, 1.8)])
circles("j2", [2] * len(j2_dots), j2_dots, BUS, 7)

# ================= k =================
polyline("k", k_up_x, k_up_y, "#808080", 3, dash=[21, 12])
polyline("k", k_lo_x, k_lo_y, "#808080", 3, dash=[21, 12])
circles("k", k_black_x, k_black_y, "#595959", 5.3,
        xa=xaxis(825, [10, 20, 30, 40, 50, 60]), ya=yaxis(1443, [0, 50], tick=7))
circles("k", k_red_x, k_red_y, "#e84a4a", 5.3)
polyline("k", k_fit_x, k_fit_y, "#000000", 3.6)
add(alt.Chart().mark_circle(size=math.pi * 25, opacity=1), "page", {"x": [1650, 1650], "y": [468, 488], "c": ["#595959", "#e84a4a"]})
Z(1390, 420, 806, 143, "Initial learning"); Z(1390, 420, 806, 205, "Relearning")
Z(1390, 420, 178, 292, "Monkey U")
T(1600, 807, "P", italic=True); T(1617, 807, "= 0.017,"); T(1684, 807, "R", italic=True); T(1696, 801, "2", size=12); T(1707, 807, "= 0.72")
Z(1390, 420, 635, 1335, "Minimal trial count for adaptation", align="center")
Z(1390, 420, 60, 760, "Amount of uniform shift (AU)", align="center", angle=270)

# ================= panel letters =================
for s, x, y in [("a", 16, 18), ("b", 389, 20), ("c", 929, 18), ("d", 931, 228), ("e", 1210, 18), ("f", 1618, 21),
                ("g", 17, 438), ("h", 17, 643), ("i", 529, 453), ("j", 957, 458), ("k", 1408, 457)]:
    T(x, y, s, size=25, align="center", bold=True, color="#000000")

# ---------- text layers ----------
tdf = pd.DataFrame(texts)
for (size, align, italic, bold), g in tdf.groupby(["size", "align", "italic", "bold"]):
    kw = dict(font=F, fontSize=float(size), align=align, baseline="middle")
    if italic: kw["fontStyle"] = "italic"
    if bold: kw["fontWeight"] = "bold"
    layers.append(alt.Chart(g.drop(columns=["size", "align", "italic", "bold"])).mark_text(**kw).encode(
        x=sx("page"), y=sy("page"), text=alt.Text("s:N"),
        angle=alt.Angle("ang:Q", scale=None), color=alt.Color("c:N", scale=None)))

chart = alt.layer(*layers).resolve_scale(x="independent", y="independent").resolve_axis(x="independent", y="independent").properties(
    width=W, height=H, padding=0, autosize=alt.AutoSizeParams(type="none"), background="white"
).configure_view(strokeWidth=0)

chart.save("out.html", embed_options={"renderer": "svg", "actions": False})
